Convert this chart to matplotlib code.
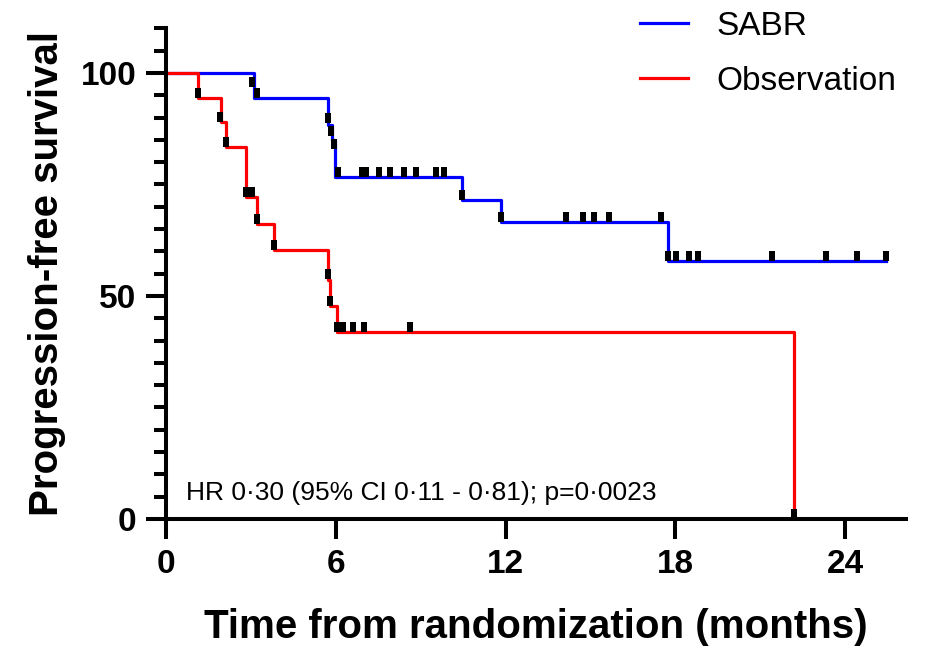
import numpy as np
import matplotlib
matplotlib.use('Agg')
import matplotlib.pyplot as plt
from matplotlib.path import Path

plt.rcParams['font.family'] = ['Liberation Sans', 'DejaVu Sans']

# step curves (time in months, % progression-free)
sabr_t = [0, 3.12, 5.73, 5.85, 5.97, 10.45, 11.83, 17.73, 25.43]
sabr_s = [100, 94.4, 88.3, 85.0, 76.6, 71.4, 66.5, 57.9, 57.9]

obs_t = [0, 1.12, 1.94, 2.11, 2.83, 3.20, 3.83, 5.71, 5.79, 6.03, 22.2]
obs_s = [100, 94.4, 88.9, 83.3, 72.2, 66.2, 60.2, 53.6, 47.8, 42.0, 0]

# censor ticks
sabr_cens_t = [3.04, 3.20, 5.74, 5.82, 5.93, 6.07, 6.94, 7.08, 7.54, 7.92, 8.41, 8.83,
               9.54, 9.82, 10.45, 11.83, 14.12, 14.72, 15.12, 15.64, 17.49, 17.73,
               18.02, 18.49, 18.79, 21.4, 23.31, 24.43, 25.43]
sabr_cens_s = [96.9, 94.4, 88.7, 85.9, 82.9, 76.6, 76.6, 76.6, 76.6, 76.6, 76.6, 76.6,
               76.6, 76.6, 71.4, 66.5, 66.5, 66.5, 66.5, 66.5, 66.5, 57.9,
               57.9, 57.9, 57.9, 57.9, 57.9, 57.9, 57.9]

obs_cens_t = [1.12, 1.91, 2.12, 2.83, 3.03, 3.20, 3.82, 5.71, 5.80, 6.04, 6.24, 6.62,
              7.01, 8.62, 22.2]
obs_cens_s = [94.4, 88.9, 83.3, 72.2, 72.2, 66.2, 60.2, 53.8, 47.8, 42.0, 42.0, 42.0,
              42.0, 42.0, 0]

series = ['SABR', 'Observation']
colors = ['#0000ff', '#ff0000']
x_ticks = [0, 6, 12, 18, 24]
y_ticks = [0, 50, 100]
hr_text = 'HR 0\u00b730 (95% CI 0\u00b711 - 0\u00b781); p=0\u00b70023'

# tick mark sitting on top of the curve (bottom edge at the data point)
tick_mark = Path([(-0.3, 0), (0.3, 0), (0.3, 1), (-0.3, 1), (-0.3, 0)], closed=True)

fig = plt.figure(figsize=(9.25, 6.5), dpi=100)
ax = fig.add_axes([166 / 925, 1 - 519 / 650, 740 / 925, 490.7 / 650])

ax.plot(sabr_t, sabr_s, drawstyle='steps-post', color=colors[0], lw=2.3, label=series[0])
ax.plot(obs_t, obs_s, drawstyle='steps-post', color=colors[1], lw=2.3, label=series[1])
ax.plot(sabr_cens_t, sabr_cens_s, ls='none', marker=tick_mark, ms=14.4,
        mfc='black', mec='black', mew=0, clip_on=False)
ax.plot(obs_cens_t, obs_cens_s, ls='none', marker=tick_mark, ms=14.4,
        mfc='black', mec='black', mew=0, clip_on=False)

ax.set_xlim(0, 26.15)
ax.set_ylim(0, 110)
ax.set_xticks(x_ticks)
ax.set_yticks(y_ticks)
ax.set_yticks(np.arange(0, 111, 5), minor=True)

for side in ['top', 'right']:
    ax.spines[side].set_visible(False)
for side in ['left', 'bottom']:
    ax.spines[side].set_linewidth(2.9)
    ax.spines[side].set_capstyle('projecting')

ax.tick_params(which='major', length=14.5, width=2.9, labelsize=24, pad=7)
ax.tick_params(which='minor', length=8.5, width=2.9)
ax.tick_params(axis='x', which='minor', length=0)
for lab in ax.get_xticklabels() + ax.get_yticklabels():
    lab.set_fontweight('bold')

ax.set_xlabel('Time from randomization (months)', fontsize=29, fontweight='bold', labelpad=20)
ax.set_ylabel('Progression-free survival', fontsize=29, fontweight='bold', labelpad=10)

ax.text(0.7, 4.3, hr_text, fontsize=19, va='baseline', ha='left')

ax.legend(loc='upper left', bbox_to_anchor=(640 / 925, 1 - 11 / 650), bbox_transform=fig.transFigure,
          frameon=False, fontsize=24, handlelength=1.45, handletextpad=0.84,
          labelspacing=0.72, borderpad=0, borderaxespad=0)

fig.savefig('out.png', dpi=100)
